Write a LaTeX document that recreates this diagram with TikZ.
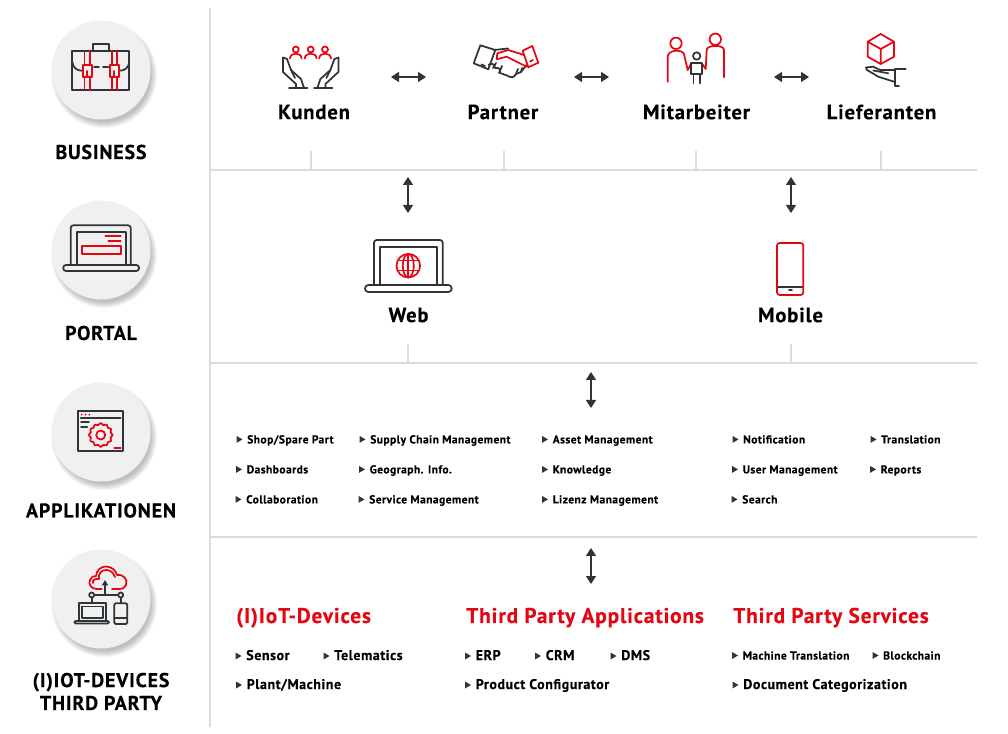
\documentclass[tikz,border=0pt]{standalone}
\usepackage{fontspec}
\setmainfont{PT Sans}[BoldFeatures={FakeBold=0.15}]
\usepackage{xcolor}
\usetikzlibrary{arrows.meta, positioning, calc}
\definecolor{inkdark}{RGB}{46,52,56}
\definecolor{brandred}{RGB}{227,6,19}
\definecolor{rulegrey}{RGB}{219,219,219}
\definecolor{bubblegrey}{RGB}{240,240,240}

% bold type, slightly tracked
\newcommand{\boldtype}[1]{\bfseries\fontsize{#1}{#1pt}\selectfont\addfontfeature{LetterSpace=4}}
% round badge with a soft shadow
\newcommand{\badge}[3]{
    \foreach \r in {47,48,49,50,51,52,53}
        \fill[black, opacity=0.04] (#2+3,#3+5) circle[radius=\r];
    \node[badgecircle] (#1) at (#2,#3) {};
}
% list entry: the triangle sits left of the text
\newcommand{\entry}[5]{
    \node[#5] (#1) at (#2,#3) {#4};
    \fill[inkdark] ($(#1.base west)+(-10.5,-7.5)$) -- ++(6,3.5) -- ++(-6,3.5) -- cycle;
}

\begin{document}
\begin{tikzpicture}[
    x=0.75pt, y=-0.75pt,
    badgecircle/.style={circle, fill=bubblegrey, minimum size=74.25pt, inner sep=0pt},
    sidelabel/.style={font=\boldtype{15}, align=center, text=black},
    titlelabel/.style={font=\boldtype{15.5}, text=black},
    redhead/.style={font=\boldtype{16}, text=brandred, anchor=base west, inner sep=0pt},
    smallitem/.style={font=\boldtype{8.6}, text=black, anchor=base west, inner sep=0pt},
    largeitem/.style={font=\boldtype{10.5}, text=black, anchor=base west, inner sep=0pt},
    gridline/.style={rulegrey, line width=1.5pt},
    tickline/.style={rulegrey, line width=1.2pt},
    linkarrow/.style={inkdark, line width=1.2pt, {Triangle[length=6pt,width=7.5pt]}-{Triangle[length=6pt,width=7.5pt]}},
    icondark/.style={inkdark, line width=1.3pt, line join=round, line cap=round},
    iconred/.style={brandred, line width=1.3pt, line join=round, line cap=round}
]
    \useasboundingbox (0,0) rectangle (1008,734);

    % grid
    \draw[gridline] (210,8) -- (210,727);
    \draw[gridline] (210,170) -- (977,170);
    \draw[gridline] (210,363) -- (977,363);
    \draw[gridline] (210,537) -- (977,537);
    \draw[tickline] (311,151) -- (311,170);
    \draw[tickline] (504,151) -- (504,170);
    \draw[tickline] (696,151) -- (696,170);
    \draw[tickline] (881,151) -- (881,170);
    \draw[tickline] (408,344) -- (408,363);
    \draw[tickline] (791,344) -- (791,363);

    % left column
    \badge{bizbadge}{101}{70}
    \badge{portalbadge}{101}{250}
    \badge{appbadge}{101}{432}
    \badge{iotbadge}{101}{599}
    \node[sidelabel] (bizlabel) at (101,152) {BUSINESS};
    \node[sidelabel] (portallabel) at (101,333) {PORTAL};
    \node[sidelabel] (applabel) at (101,510.5) {APPLIKATIONEN};
    \node[sidelabel] (iotlabel) at (101,691.5) {(I)IOT-DEVICES\\[2.2pt]THIRD PARTY};

    % briefcase
    \draw[icondark] (72.3,50.7) rectangle (129.3,90);
    \draw[icondark] (92.7,50.7) -- (92.7,43.7) -- (109.3,43.7) -- (109.3,50.7);
    \draw[icondark] (72.3,61.7) .. controls (73,68) and (77,70.7) .. (82,70.7);
    \draw[icondark] (129.3,61.7) .. controls (128.6,68) and (124.6,70.7) .. (119.6,70.7);
    \draw[icondark] (94,66.7) -- (99,66.7) (103,66.7) -- (108.3,66.7);
    \draw[iconred] (84.5,50.7) -- (84.5,65) (90,50.7) -- (90,65) (84.5,76.7) -- (84.5,90) (90,76.7) -- (90,90);
    \draw[iconred] (111.7,50.7) -- (111.7,65) (117.3,50.7) -- (117.3,65) (111.7,76.7) -- (111.7,90) (117.3,76.7) -- (117.3,90);
    \draw[iconred] (83,65) rectangle (91.7,76.7) (87.3,76.7) -- (87.3,71);
    \draw[iconred] (110,65) rectangle (118.7,76.7) (114.3,76.7) -- (114.3,71);

    % portal laptop
    \draw[icondark, rounded corners=2pt] (70.7,265) -- (70.7,225.3) -- (130.7,225.3) -- (130.7,265);
    \draw[icondark] (76.7,265) -- (76.7,231.7) -- (125.7,231.7) -- (125.7,265);
    \draw[icondark, rounded corners=2pt] (63.3,265) -- (139,265) -- (139,271) -- (63.3,271) -- cycle;
    \draw[iconred] (81.7,246) rectangle (120.7,254.3);
    \draw[iconred] (105.3,235.7) -- (120.7,235.7) (108.3,241) -- (120.7,241);

    % application window
    \draw[icondark] (78.3,410.7) rectangle (123.3,451);
    \draw[icondark] (80.7,418.3) -- (120.7,418.3);
    \draw[icondark] (81,422.3) -- (89,422.3) (81,426.7) -- (87.3,426.7);
    \fill[brandred] (81.7,414.7) circle[radius=1] (85.5,414.7) circle[radius=1] (89.3,414.7) circle[radius=1];
    \draw[iconred] (114.3,447.7) -- (120.7,447.7);
    \draw[iconred, shift={(100.7,435)}] plot[smooth cycle, samples=48, domain=0:352.5] (\x:{11+0.9*cos(12*\x)});
    \draw[iconred] (100.7,435) circle[radius=4.5];

    % cloud with devices
    \draw[iconred] (101.7,589) -- (97,589) .. controls (91,589) and (88,584) .. (90,580) .. controls (91,577) and (94,575.5) .. (96,576) .. controls (96.5,570) and (101,566.5) .. (106,566.5) .. controls (112,566.5) and (116,571) .. (117,575) .. controls (124,574) and (128,580) .. (126,585) .. controls (125,588) and (122,589) .. (120,589) -- (112,589);
    \draw[iconred] (93,583) .. controls (92,580) and (95,578.5) .. (99,579) .. controls (98,573) and (102,570) .. (106,570) .. controls (110,570) and (113,572) .. (115,577);
    \draw[icondark, -{Triangle[length=4pt,width=4.5pt]}] (105,595) -- (105,580);
    \draw[icondark] (94.2,595) -- (118.2,595);
    \draw[icondark] (91.7,595) circle[radius=2.5] (120.7,595) circle[radius=2.5];
    \draw[icondark] (91.7,597.5) -- (91.7,603.3) (120.7,597.5) -- (120.7,603.3);
    \draw[icondark] (79,621) -- (79,603.3) -- (106,603.3) -- (106,621);
    \draw[icondark] (82,618) rectangle (103,606.5);
    \draw[icondark, rounded corners=1pt] (74.3,621) -- (109,621) -- (109,623.5) -- (74.3,623.5) -- cycle;
    \draw[icondark, rounded corners=1pt] (114.3,603.3) rectangle (127.3,624);
    \draw[icondark] (114.3,618.3) -- (127.3,618.3);

    % customers
    \draw[icondark] (283,57.5) -- (283,72) -- (296,84) -- (296,88);
    \draw[icondark] (283,57.5) -- (287,59) -- (291,70) -- (301,79) -- (304,88);
    \draw[icondark] (289,88) -- (307.5,88) (291,70) -- (295,78);
    \draw[icondark] (338.4,57.5) -- (338.4,72) -- (325.4,84) -- (325.4,88);
    \draw[icondark] (338.4,57.5) -- (334.4,59) -- (330.4,70) -- (320.4,79) -- (317.4,88);
    \draw[icondark] (332.4,88) -- (313.9,88) (330.4,70) -- (326.4,78);
    \draw[iconred] (290,58.5) .. controls (290,52) and (301.6,52) .. (301.6,58.5);
    \draw[iconred] (295.8,49.5) circle[radius=3];
    \draw[iconred] (304.8,58.5) .. controls (304.8,52) and (316.6,52) .. (316.6,58.5);
    \draw[iconred] (310.7,49.5) circle[radius=3];
    \draw[iconred] (319.2,58.5) .. controls (319.2,52) and (331,52) .. (331,58.5);
    \draw[iconred] (325,49.5) circle[radius=3];

    % handshake
    \draw[icondark] (480.3,45.3) -- (495.3,50) -- (488.3,69.3) -- (473.7,63.3) -- cycle;
    \draw[icondark] (481.5,64.5) -- (485,66);
    \draw[icondark] (494,50) -- (508,48.5);
    \draw[icondark] (488.5,65) .. controls (492,62) and (495,65) .. (495,68) .. controls (499,67) and (501,70) .. (500,73) .. controls (503,73) and (505,76) .. (507,75.5) .. controls (511,78) and (514,78) .. (516,74) -- (521,72) -- (526.5,65);
    \draw[icondark] (496,63) -- (493,68) (502,66) -- (499,73) (516,74) -- (518,69) (521,72) -- (522,68);
    \draw[iconred] (522.7,50.7) -- (532.3,46) -- (538.3,62.7) -- (528.3,67.3) -- cycle;
    \draw[iconred] (533,60) -- (530,61.5);
    \draw[iconred] (524,55) -- (508.3,50) -- (497.3,53.3) -- (496.7,59.3) -- (506.7,56.7) -- (526.7,66.7);

    % staff
    \draw[iconred] (676,43.3) circle[radius=5.7];
    \draw[iconred] (667.7,81.7) -- (667.7,57) .. controls (667.7,49.5) and (682,49) .. (684,54) -- (687.7,70) -- (691,64);
    \draw[iconred] (715.3,39.3) circle[radius=5.7];
    \draw[iconred] (724,77.3) -- (724,50) .. controls (724,44.5) and (706.7,44.5) .. (706.7,50) -- (705.7,69) -- (702.3,64);
    \draw[icondark] (696.7,56) circle[radius=3.7];
    \draw[icondark] (691,62.7) rectangle (702.3,74.3);
    \draw[icondark] (693.5,74.3) -- (693.5,83.3) (699.7,74.3) -- (699.7,83.3);

    % suppliers
    \draw[iconred] (880.7,34) -- (894,41.7) -- (894,56.7) -- (880.7,64) -- (867.7,56.7) -- (867.7,41.7) -- cycle;
    \draw[iconred] (867.7,41.7) -- (880.7,49) -- (894,41.7) (880.7,49) -- (880.7,64);
    \draw[icondark] (905.7,69.3) -- (895,69.3) -- (895,86) -- (899,86);
    \draw[icondark] (894,70) -- (880,70) -- (873.3,66.7) -- (866,67.5) -- (867,70) -- (878.3,76.7) -- (894,81.7);
    \draw[icondark] (873.3,70.5) -- (888.3,73.3);

    % web laptop
    \draw[icondark, rounded corners=2pt] (374,285) -- (374,240) -- (442.7,240) -- (442.7,285);
    \draw[icondark] (380,285) -- (380,246.7) -- (436.7,246.7) -- (436.7,285);
    \draw[icondark, rounded corners=2.5pt] (365,285) -- (451.7,285) -- (451.7,292) -- (365,292) -- cycle;
    \draw[iconred] (408.3,265.7) circle[radius=11.8];
    \draw[iconred] (408.3,265.7) ellipse[x radius=5.5, y radius=11.8];
    \draw[iconred] (408.3,254) -- (408.3,277.5) (398,260.5) -- (418.6,260.5) (398,270.5) -- (418.6,270.5);

    % phone
    \draw[icondark] (778,286.7) -- (802.5,286.7) (789,290.3) -- (792,290.3);
    \draw[iconred, rounded corners=2pt] (777,243) rectangle (803.3,295);

    % business row
    \node[titlelabel] (kunden) at (314,112) {Kunden};
    \node[titlelabel] (partner) at (503,112) {Partner};
    \node[titlelabel] (mitarbeiter) at (696.5,112) {Mitarbeiter};
    \node[titlelabel] (lieferanten) at (881.5,112) {Lieferanten};
    \node[titlelabel] (web) at (408.5,315) {Web};
    \node[titlelabel] (mobile) at (790.5,315) {Mobile};

    % arrow ends
    \coordinate (kundenout) at (391,77);
    \coordinate (partnerin) at (426,77);
    \coordinate (partnerout) at (574,77);
    \coordinate (staffin) at (609,77);
    \coordinate (staffout) at (774,77);
    \coordinate (supplierin) at (809,77);
    \coordinate (webtop) at (408,177);
    \coordinate (webbottom) at (408,213);
    \coordinate (mobiletop) at (791,177);
    \coordinate (mobilebottom) at (791,213);
    \coordinate (apptop) at (591,372);
    \coordinate (appbottom) at (591,408);
    \coordinate (iottop) at (591,548);
    \coordinate (iotbottom) at (591,584);

    \draw[linkarrow] (kundenout) -- (partnerin);
    \draw[linkarrow] (partnerout) -- (staffin);
    \draw[linkarrow] (staffout) -- (supplierin);
    \draw[linkarrow] (webtop) -- (webbottom);
    \draw[linkarrow] (mobiletop) -- (mobilebottom);
    \draw[linkarrow] (apptop) -- (appbottom);
    \draw[linkarrow] (iottop) -- (iotbottom);

    % application lists
    \entry{shop}{247}{443.4}{Shop/Spare Part}{smallitem}
    \entry{dash}{246.5}{473.4}{Dashboards}{smallitem}
    \entry{collab}{246}{503.4}{Collaboration}{smallitem}
    \entry{supply}{370}{443.4}{Supply Chain Management}{smallitem}
    \entry{geo}{369.5}{473.4}{Geograph. Info.}{smallitem}
    \entry{service}{369}{503.4}{Service Management}{smallitem}
    \entry{asset}{552.5}{443.4}{Asset Management}{smallitem}
    \entry{know}{552.5}{473.4}{Knowledge}{smallitem}
    \entry{lizenz}{552.5}{503.4}{Lizenz Management}{smallitem}
    \entry{notif}{743}{443.4}{Notification}{smallitem}
    \entry{user}{742.5}{473.4}{User Management}{smallitem}
    \entry{search}{742}{503.4}{Search}{smallitem}
    \entry{transl}{881}{443.4}{Translation}{smallitem}
    \entry{reports}{880.5}{473.4}{Reports}{smallitem}

    % bottom headings
    \node[redhead] (iothead) at (236,623) {(I)IoT-Devices};
    \node[redhead] (apphead) at (466,623) {Third Party Applications};
    \node[redhead] (svchead) at (733,623) {Third Party Services};

    % bottom lists
    \entry{sensor}{246}{660}{Sensor}{largeitem}
    \entry{tele}{334}{660}{Telematics}{largeitem}
    \entry{plant}{246.5}{689}{Plant/Machine}{largeitem}
    \entry{erp}{475.5}{660}{ERP}{largeitem}
    \entry{crm}{545.5}{660}{CRM}{largeitem}
    \entry{dms}{621}{660}{DMS}{largeitem}
    \entry{config}{475.5}{689}{Product Configurator}{largeitem}
    \entry{machine}{742.5}{659.5}{Machine Translation}{smallitem}
    \entry{block}{883}{659.5}{Blockchain}{smallitem}
    \entry{doc}{743}{689}{Document Categorization}{largeitem}
\end{tikzpicture}
\end{document}
